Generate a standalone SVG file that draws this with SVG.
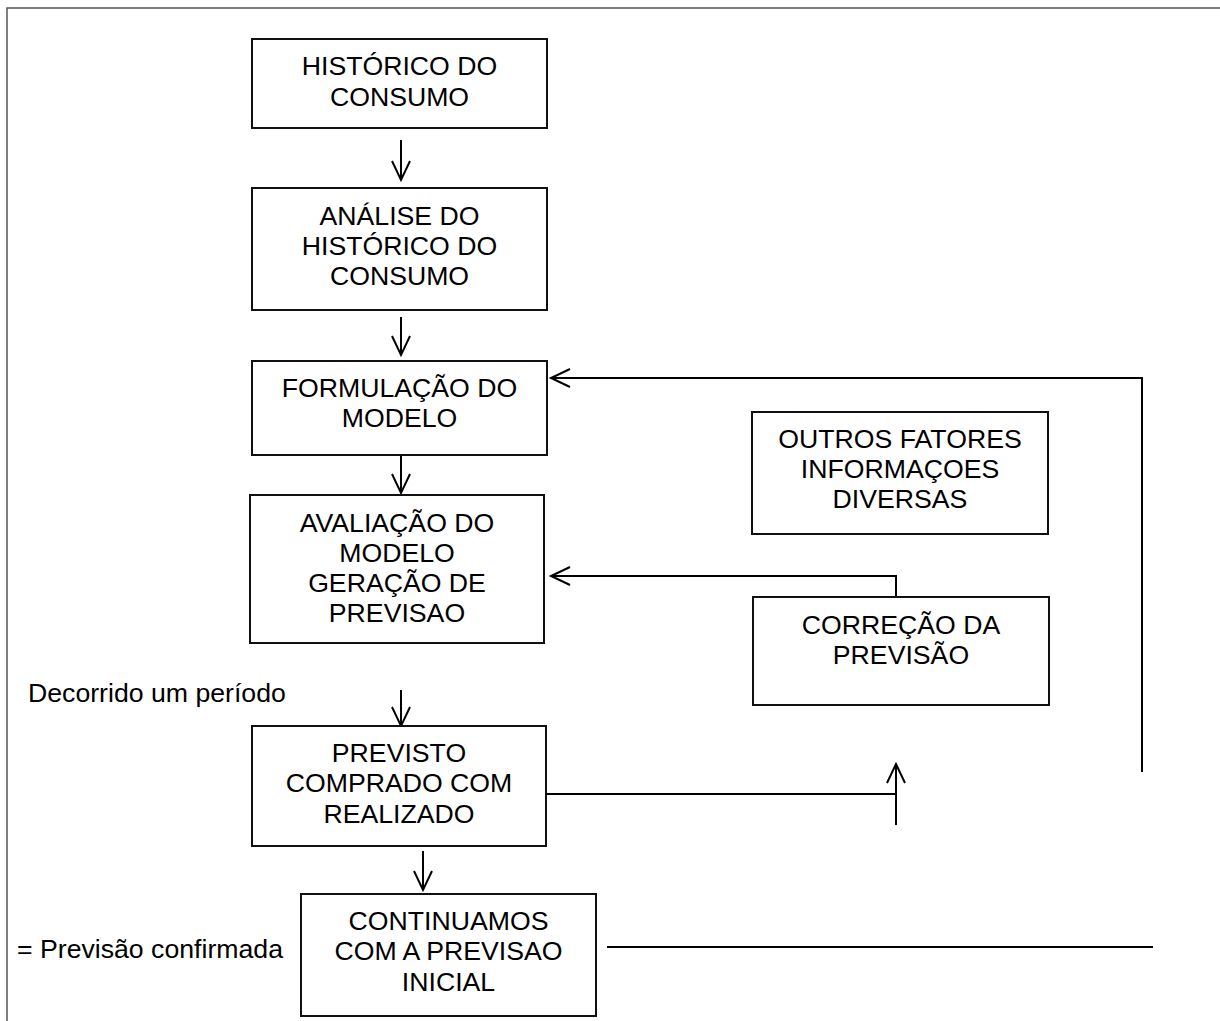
<svg xmlns="http://www.w3.org/2000/svg" width="1220" height="1021" viewBox="0 0 1220 1021">
  <style>
    .box { fill: #ffffff; stroke: #111111; stroke-width: 2; }
    .t { font-family: "Liberation Sans", Arial, sans-serif; font-size: 26.67px; fill: #000000; text-anchor: middle; }
    .lbl { font-family: "Liberation Sans", Arial, sans-serif; font-size: 26.67px; fill: #000000; }
    .c { fill: none; stroke: #000000; stroke-width: 2; }
    .frame { fill: none; stroke: #555555; stroke-width: 1.5; }
  </style>
  <defs>
    <marker id="arr" markerUnits="userSpaceOnUse" markerWidth="24" markerHeight="24" viewBox="-21 -12 24 24" refX="0" refY="0" orient="auto">
      <path d="M -19 -9 L 0 0 L -19 9" fill="none" stroke="#000000" stroke-width="2"/>
    </marker>
  </defs>

  <g id="frame">
    <path class="frame" d="M 7 1021 L 7 8 L 1220 8"/>
  </g>

  <g id="connectors">
    <line class="c" x1="401" y1="140" x2="401" y2="180" marker-end="url(#arr)"/>
    <line class="c" x1="401" y1="317" x2="401" y2="355" marker-end="url(#arr)"/>
    <line class="c" x1="401" y1="456" x2="401" y2="493" marker-end="url(#arr)"/>
    <line class="c" x1="401" y1="690" x2="401" y2="726" marker-end="url(#arr)"/>
    <line class="c" x1="423" y1="851" x2="423" y2="890" marker-end="url(#arr)"/>
    <polyline class="c" points="1142,772 1142,378 551,378" marker-end="url(#arr)"/>
    <polyline class="c" points="896,597 896,576 551,576" marker-end="url(#arr)"/>
    <line class="c" x1="546" y1="794" x2="896" y2="794"/>
    <line class="c" x1="896" y1="825" x2="896" y2="764" marker-end="url(#arr)"/>
    <line class="c" x1="607" y1="947" x2="1153" y2="947"/>
  </g>

  <g id="historico">
    <rect class="box" x="252" y="39" width="295" height="89"/>
    <text class="t" x="399.5" y="75">HISTÓRICO DO</text>
    <text class="t" x="399.5" y="106">CONSUMO</text>
  </g>

  <g id="analise">
    <rect class="box" x="252" y="188" width="295" height="122"/>
    <text class="t" x="399.5" y="225">ANÁLISE DO</text>
    <text class="t" x="399.5" y="255">HISTÓRICO DO</text>
    <text class="t" x="399.5" y="285">CONSUMO</text>
  </g>

  <g id="formulacao">
    <rect class="box" x="252" y="361" width="295" height="94"/>
    <text class="t" x="399.5" y="397">FORMULAÇÃO DO</text>
    <text class="t" x="399.5" y="427">MODELO</text>
  </g>

  <g id="avaliacao">
    <rect class="box" x="250" y="495" width="294" height="148"/>
    <text class="t" x="397" y="532">AVALIAÇÃO DO</text>
    <text class="t" x="397" y="562">MODELO</text>
    <text class="t" x="397" y="592">GERAÇÃO DE</text>
    <text class="t" x="397" y="622">PREVISAO</text>
  </g>

  <g id="outros">
    <rect class="box" x="752" y="412" width="296" height="122"/>
    <text class="t" x="900" y="448">OUTROS FATORES</text>
    <text class="t" x="900" y="478">INFORMAÇOES</text>
    <text class="t" x="900" y="508">DIVERSAS</text>
  </g>

  <g id="correcao">
    <rect class="box" x="753" y="597" width="296" height="108"/>
    <text class="t" x="901" y="634">CORREÇÃO DA</text>
    <text class="t" x="901" y="664">PREVISÃO</text>
  </g>

  <g id="decorrido">
    <text class="lbl" x="28" y="702">Decorrido um período</text>
  </g>

  <g id="previsto">
    <rect class="box" x="252" y="726" width="294" height="120"/>
    <text class="t" x="399" y="762">PREVISTO</text>
    <text class="t" x="399" y="792">COMPRADO COM</text>
    <text class="t" x="399" y="823">REALIZADO</text>
  </g>

  <g id="confirmada">
    <text class="lbl" x="17" y="958">= Previsão confirmada</text>
  </g>

  <g id="continuamos">
    <rect class="box" x="301" y="894" width="295" height="122"/>
    <text class="t" x="448.5" y="930">CONTINUAMOS</text>
    <text class="t" x="448.5" y="960">COM A PREVISAO</text>
    <text class="t" x="448.5" y="991">INICIAL</text>
  </g>
</svg>
